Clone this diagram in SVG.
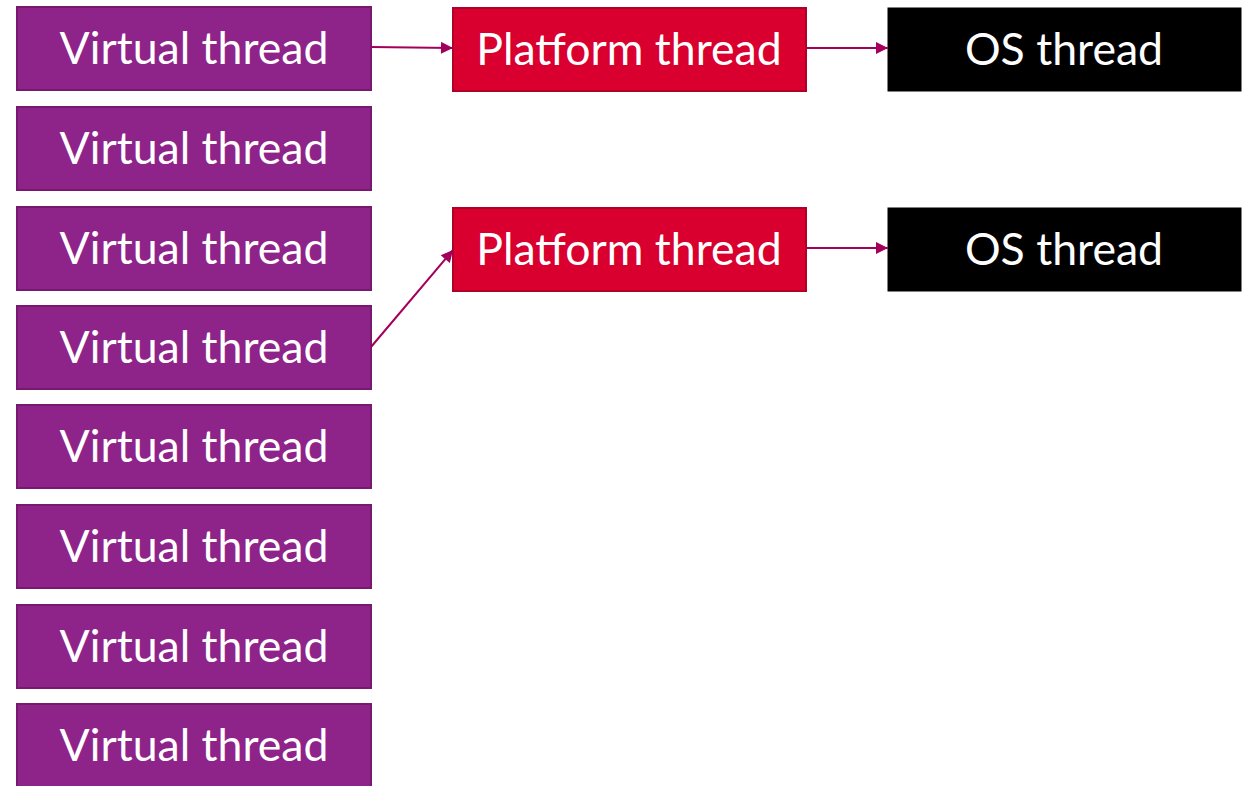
<svg xmlns="http://www.w3.org/2000/svg" width="1251" height="786" viewBox="0 0 1251 786">
  <style>
    .vt rect { fill: #8E2389; stroke: #76196F; stroke-width: 2; }
    .pt rect { fill: #D9002F; stroke: #B00028; stroke-width: 2; }
    .os rect { fill: #000000; stroke: #000000; stroke-width: 1; }
    text { font-family: "Lato", "Open Sans", "Liberation Sans", sans-serif; font-size: 44.6px; fill: #FFFFFF; text-anchor: middle; }
    .conn line { stroke: #A3005B; stroke-width: 2; marker-end: url(#arrow); }
  </style>
  <defs>
    <marker id="arrow" viewBox="0 0 10 10" refX="10" refY="5" markerWidth="7" markerHeight="6" orient="auto" markerUnits="strokeWidth">
      <path d="M0,0 L10,5 L0,10 z" fill="#A3005B"/>
    </marker>
  </defs>

  <!-- virtual threads -->
  <g id="vt1" class="vt"><rect x="17" y="7" width="354" height="83"/><text x="194" y="64">Virtual thread</text></g>
  <g id="vt2" class="vt"><rect x="17" y="107" width="354" height="83"/><text x="194" y="164">Virtual thread</text></g>
  <g id="vt3" class="vt"><rect x="17" y="207" width="354" height="83"/><text x="194" y="264">Virtual thread</text></g>
  <g id="vt4" class="vt"><rect x="17" y="306" width="354" height="83"/><text x="194" y="363">Virtual thread</text></g>
  <g id="vt5" class="vt"><rect x="17" y="405" width="354" height="83"/><text x="194" y="462">Virtual thread</text></g>
  <g id="vt6" class="vt"><rect x="17" y="505" width="354" height="83"/><text x="194" y="562">Virtual thread</text></g>
  <g id="vt7" class="vt"><rect x="17" y="605" width="354" height="83"/><text x="194" y="662">Virtual thread</text></g>
  <g id="vt8" class="vt"><rect x="17" y="704" width="354" height="83"/><text x="194" y="761">Virtual thread</text></g>

  <!-- platform threads -->
  <g id="pt1" class="pt"><rect x="453" y="8" width="353" height="83"/><text x="629" y="65">Platform thread</text></g>
  <g id="pt2" class="pt"><rect x="453" y="208" width="353" height="83"/><text x="629" y="265">Platform thread</text></g>

  <!-- OS threads -->
  <g id="os1" class="os"><rect x="888" y="8" width="353" height="83"/><text x="1064" y="65">OS thread</text></g>
  <g id="os2" class="os"><rect x="888" y="208" width="353" height="83"/><text x="1064" y="265">OS thread</text></g>

  <!-- connectors -->
  <g id="connectors" class="conn">
    <line x1="371" y1="47" x2="453" y2="48"/>
    <line x1="806" y1="48" x2="888" y2="48"/>
    <line x1="806" y1="248" x2="888" y2="248"/>
    <line x1="371" y1="347" x2="453" y2="250"/>
  </g>
</svg>
